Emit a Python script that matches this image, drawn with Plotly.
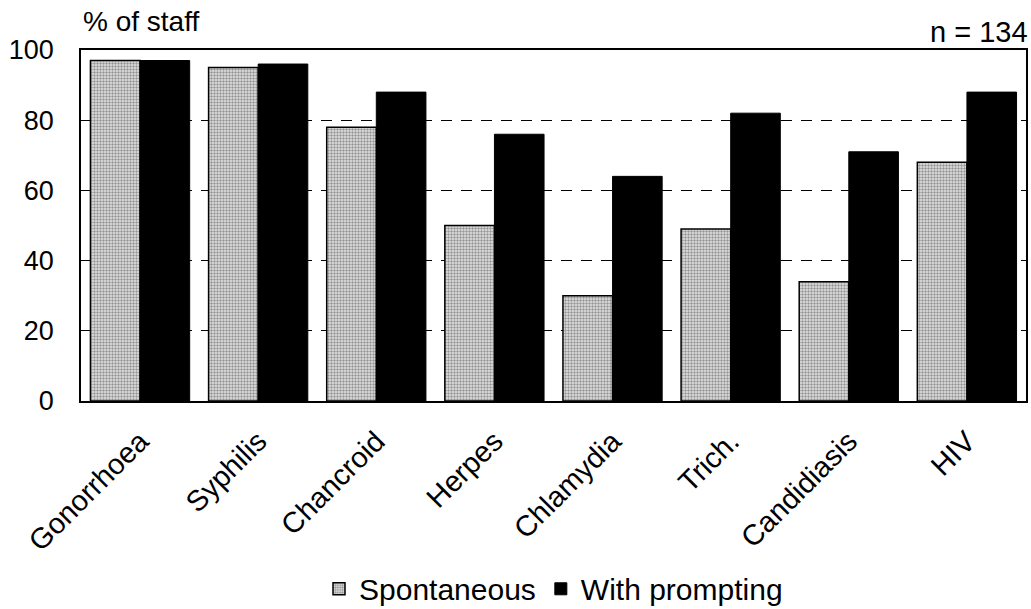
import plotly.graph_objects as go

categories = ["Gonorrhoea", "Syphilis", "Chancroid", "Herpes", "Chlamydia", "Trich.", "Candidiasis", "HIV"]
spontaneous = [97, 95, 78, 50, 30, 49, 34, 68]
with_prompting = [97, 96, 88, 76, 64, 82, 71, 88]
y_ticks = [0, 20, 40, 60, 80, 100]

FONT = "Liberation Sans, Arial, sans-serif"

fig = go.Figure()
fig.add_trace(go.Bar(
    x=categories, y=spontaneous, name="Spontaneous",
    marker=dict(color="#d0d0d0", line=dict(color="black", width=1.5),
                pattern=dict(shape=".", fgcolor="#444444", bgcolor="#e6e6e6", size=3, solidity=0.5)),
))
fig.add_trace(go.Bar(
    x=categories, y=with_prompting, name="With prompting",
    marker=dict(color="black", line=dict(color="black", width=1)),
))

fig.update_layout(
    width=1031, height=609,
    margin=dict(l=81, r=5, t=50, b=208, autoexpand=False),
    paper_bgcolor="white", plot_bgcolor="white",
    barmode="group", bargap=0.16, bargroupgap=0,
    font=dict(family=FONT, color="black", size=26),
    showlegend=True,
    legend=dict(orientation="h", x=0.5, xanchor="center", y=-0.535, yanchor="middle",
                font=dict(size=30, family=FONT), itemwidth=30, traceorder="normal"),
    xaxis=dict(showline=True, linecolor="black", linewidth=1.5, mirror=True, automargin=False,
               tickangle=-45, tickfont=dict(size=29, family=FONT), ticks="",
               ticklabelstandoff=10),
    yaxis=dict(range=[0, 100], tickvals=y_ticks, showline=True, linecolor="black", linewidth=1.5,
               mirror=True, showgrid=True, gridcolor="black", griddash="11px,9px", gridwidth=1,
               tickfont=dict(size=27, family=FONT), ticks="inside", ticklen=8, tickcolor="black",
               ticklabelstandoff=20, zeroline=False, automargin=False),
    annotations=[
        dict(text="% of staff", xref="paper", yref="paper", x=0.0, y=1.03, xanchor="left",
             yanchor="bottom", showarrow=False, font=dict(size=28, family=FONT)),
        dict(text="n = 134", xref="paper", yref="paper", x=1.0, y=1.0, xanchor="right", xshift=4,
             yanchor="bottom", showarrow=False, font=dict(size=29, family=FONT)),
    ],
)

fig.write_html("out.html", config={"displayModeBar": False},
               post_script="document.body.style.margin='0';")
